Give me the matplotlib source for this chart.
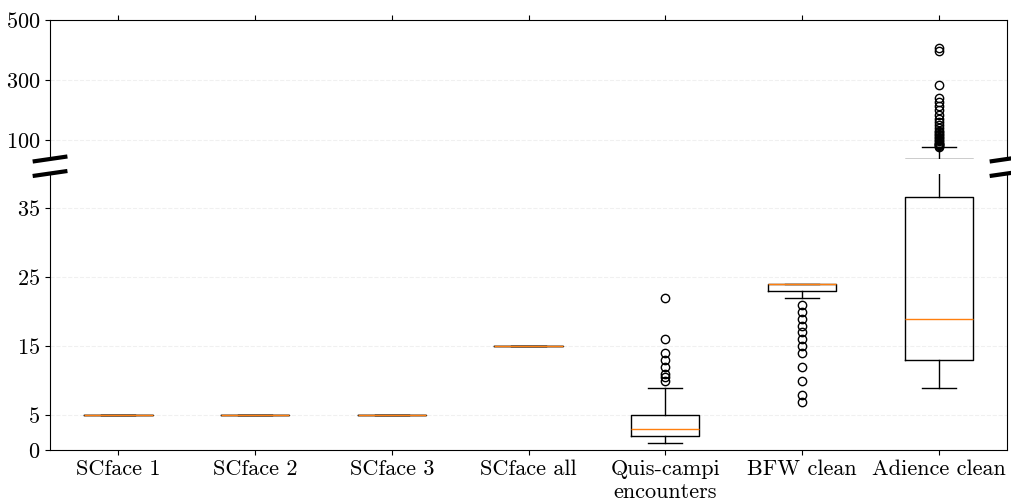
import numpy as np
import matplotlib
matplotlib.use("Agg")
import matplotlib.pyplot as plt

plt.rcParams['font.family'] = 'serif'
plt.rcParams['font.serif'] = ['cmr10']
plt.rcParams['mathtext.fontset'] = 'cm'
plt.rcParams['axes.formatter.use_mathtext'] = True
plt.rcParams['font.size'] = 16

# data
labels = ['SCface 1', 'SCface 2', 'SCface 3', 'SCface all',
          'Quis-campi\nencounters', 'BFW clean', 'Adience clean']
whislo = [5, 5, 5, 15, 1, 22, 9]
q1 = [5, 5, 5, 15, 2, 23, 13]
med = [5, 5, 5, 15, 3, 24, 19]
q3 = [5, 5, 5, 15, 5, 24, 36.6]
whishi = [5, 5, 5, 15, 9, 24, 75]
fliers = [
    [],
    [],
    [],
    [],
    [10, 10.5, 11, 12, 13, 14, 16, 22],
    [7, 8, 10, 12, 14, 15, 16, 17, 18, 19, 20, 21],
    [78, 80, 82, 85, 88, 90, 95, 100, 105, 110, 115, 120, 125, 130, 140,
     150, 160, 170, 183, 200, 214, 228, 241, 283, 395, 405],
]

top_ticks = [100, 300, 500]
bottom_ticks = [0, 5, 15, 25, 35]
top_lim = (q3[-1], 500)
bottom_lim = (0, 40)


def make_stats(lo, hi):
    # only keep the outliers that fall inside this panel
    stats = []
    for i in range(len(labels)):
        fl = [f for f in fliers[i] if lo <= f <= hi]
        stats.append(dict(label=labels[i], whislo=whislo[i], q1=q1[i], med=med[i],
                          q3=q3[i], whishi=whishi[i], fliers=fl))
    return stats


fig = plt.figure(figsize=(10.11, 5), dpi=100)
ax_top = fig.add_axes([0.0495, 0.682, 0.9466, 0.278])
ax_bot = fig.add_axes([0.0495, 0.1, 0.9466, 0.553])

for ax, lim in ((ax_top, top_lim), (ax_bot, bottom_lim)):
    ax.bxp(make_stats(*lim), showfliers=True)
    ax.set_axisbelow(True)
    ax.yaxis.grid(True, linestyle='--', color='#f0f0f0', linewidth=0.8)
    ax.set_xlim(0.5, len(labels) + 0.5)
    ax.set_ylim(*lim)

ax_top.set_yticks(top_ticks)
ax_bot.set_yticks(bottom_ticks)

# broken axis styling
ax_top.spines['bottom'].set_visible(False)
ax_bot.spines['top'].set_visible(False)
ax_top.xaxis.tick_top()
ax_top.tick_params(labeltop=False)
ax_bot.xaxis.tick_bottom()
ax_bot.set_xticks(range(1, len(labels) + 1))
ax_bot.set_xticklabels(labels)

d = 0.016
kw = dict(transform=ax_top.transAxes, color='k', clip_on=False, linewidth=3)
ax_top.plot((-d, +d), (-d, +d), **kw)
ax_top.plot((1 - d, 1 + d), (-d, +d), **kw)
kw.update(transform=ax_bot.transAxes)
ax_bot.plot((-d, +d), (1 - d / 2, 1 + d / 2), **kw)
ax_bot.plot((1 - d, 1 + d), (1 - d / 2, 1 + d / 2), **kw)

fig.savefig('out.png', dpi=100)
